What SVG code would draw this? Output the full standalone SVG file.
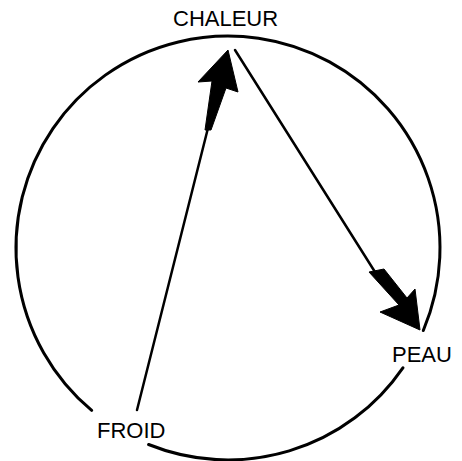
<svg xmlns="http://www.w3.org/2000/svg" width="462" height="461" viewBox="0 0 462 461">
<style>
.lbl{font-family:"Liberation Sans",Arial,sans-serif;font-size:22px;fill:#000}
.ring{fill:none;stroke:#000;stroke-width:3;stroke-linecap:round}
.shaft{fill:none;stroke:#000;stroke-width:2.5;stroke-linecap:round}
.head{fill:#000;stroke:#000;stroke-width:1;stroke-linejoin:miter}
</style>
<rect width="462" height="461" fill="#fff"/>
<g id="cycle">
<path class="ring" d="M423.3,330.5 A212,212 0 1 0 91.7,410.4"/>
<path class="ring" d="M148.6,444.5 A212,212 0 0 0 402.9,367.8"/>
</g>
<g id="connectors">
<g id="froid-to-chaleur">
<line class="shaft" x1="137" y1="410" x2="208" y2="128"/>
<polygon class="head" points="228,50 238,92 226,88 211,130 205,130 212,81 198,82"/>
</g>
<g id="chaleur-to-peau">
<line class="shaft" x1="235" y1="50" x2="375" y2="272"/>
<polygon class="head" points="369,272 384,269 407,298 415,289 420,330 380,312 399,305"/>
</g>
</g>
<g id="node-chaleur"><text class="lbl" x="173" y="26">CHALEUR</text></g>
<g id="node-peau"><text class="lbl" x="392" y="362">PEAU</text></g>
<g id="node-froid"><text class="lbl" x="97" y="438">FROID</text></g>
</svg>
